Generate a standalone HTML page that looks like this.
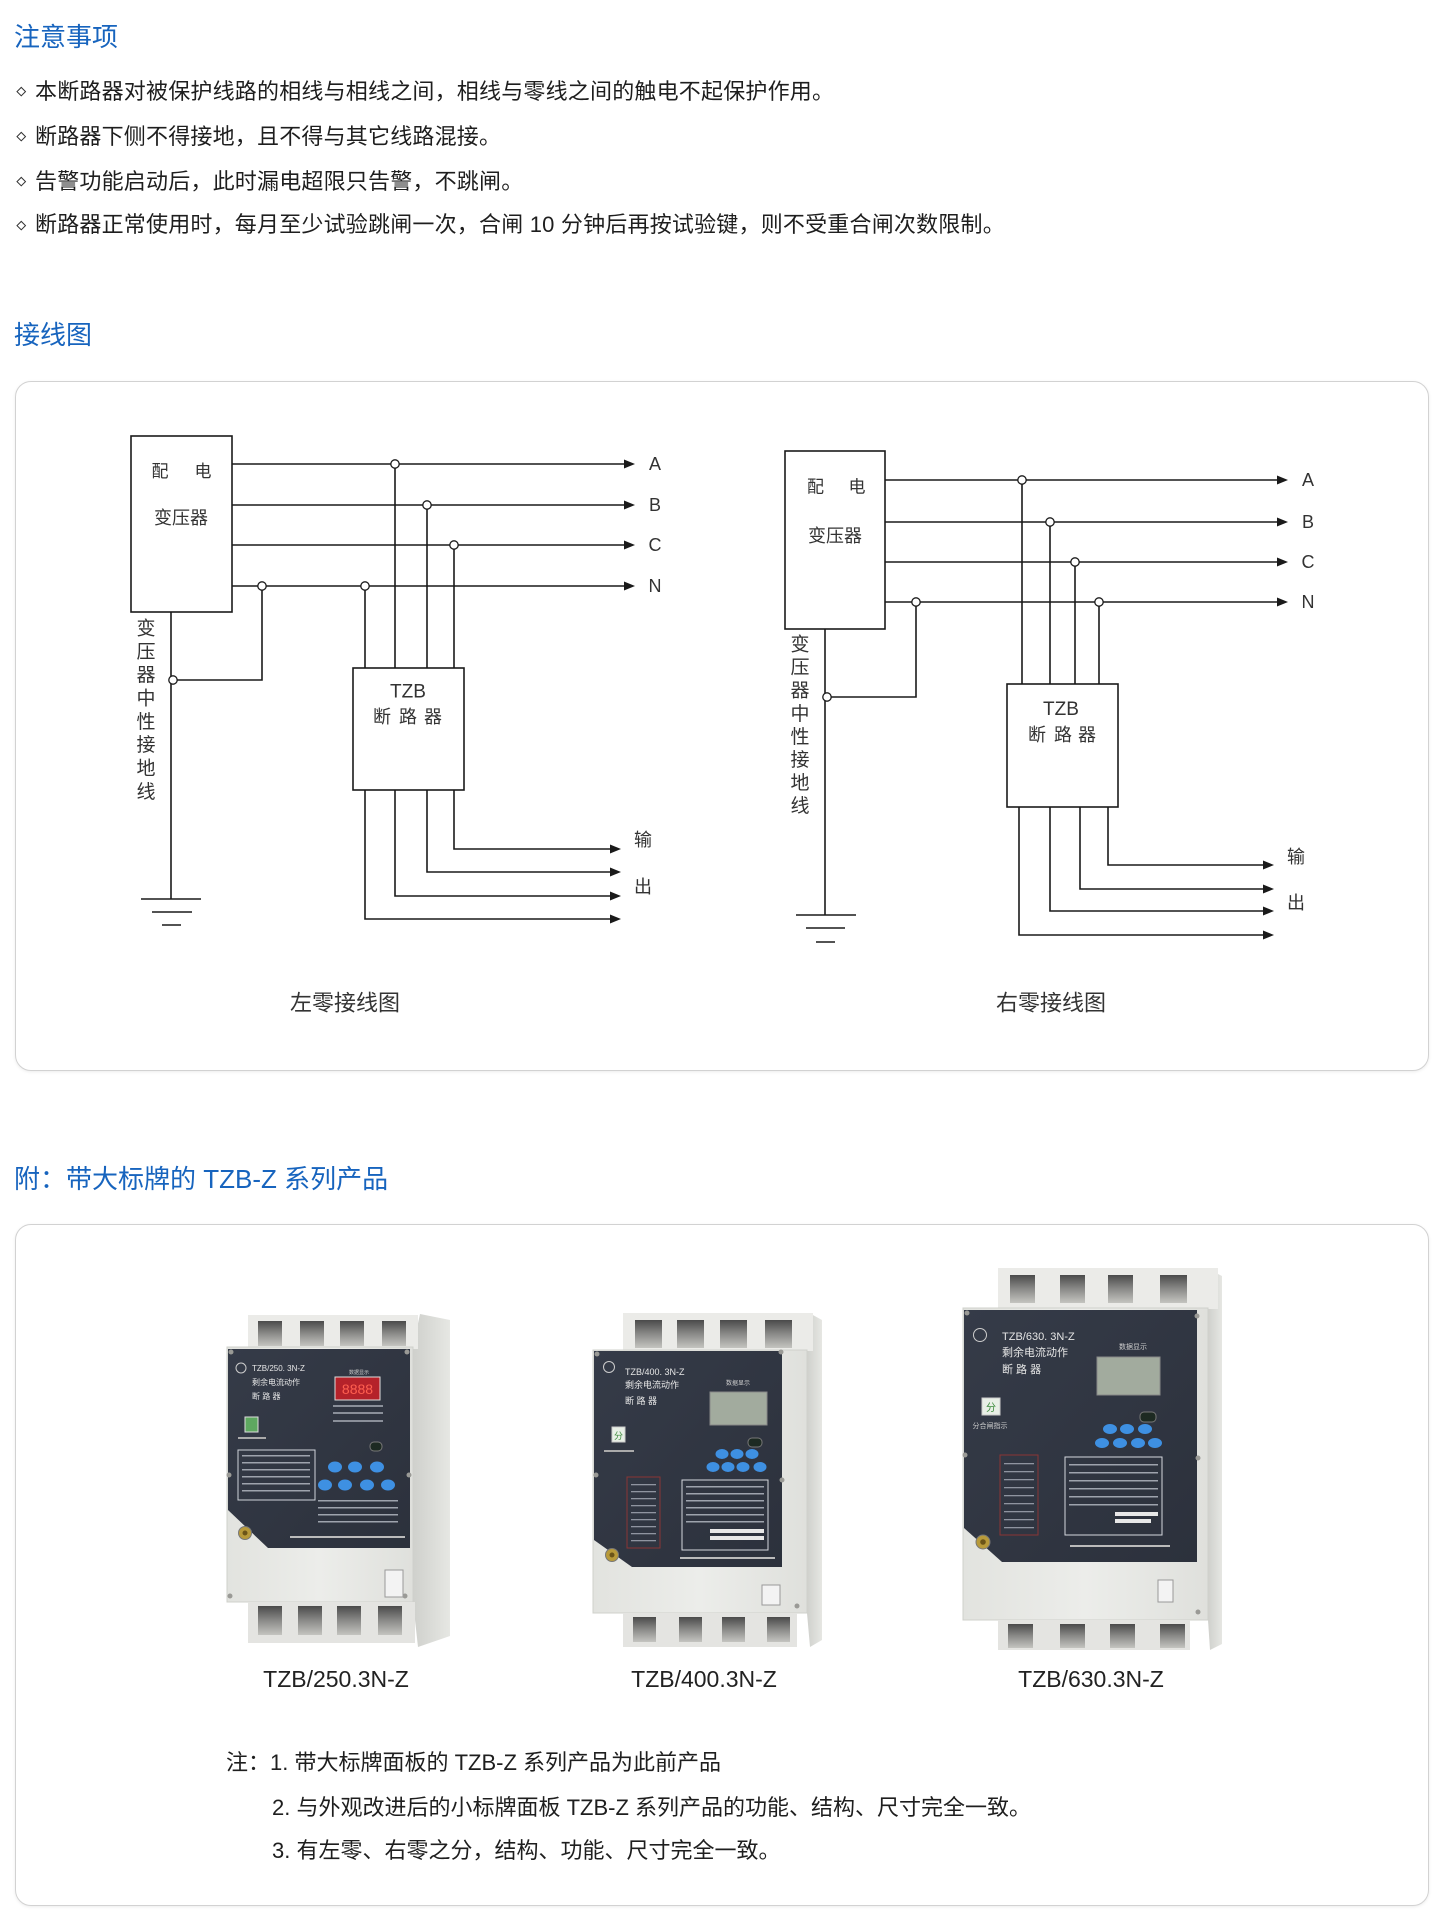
<!DOCTYPE html>
<html><head><meta charset="utf-8">
<style>
html,body{margin:0;padding:0;background:#fff}
body{width:1444px;height:1918px;position:relative;overflow:hidden;font-family:"Liberation Sans","Noto Sans CJK SC",sans-serif;color:#222}
.t{position:absolute;white-space:nowrap;line-height:30px}
.h{font-size:26px;color:#1764be;left:14px}
.b{font-size:22px;left:35px;color:#1e1e1e;letter-spacing:0.2px}
.dia{position:absolute;width:4.5px;height:4.5px;border:1.2px solid #333;transform:rotate(45deg);left:18px}
.card{position:absolute;left:15px;width:1414px;box-sizing:border-box;border:1.5px solid #d2d2d2;border-radius:16px;box-shadow:0 1px 3px rgba(0,0,0,.08);background:#fff}
.cap{position:absolute;width:240px;text-align:center;font-size:23px;line-height:30px;color:#222}
.n{position:absolute;font-size:22px;line-height:30px;white-space:nowrap;color:#1e1e1e}
svg{position:absolute;left:0;top:0}
</style></head><body>

<div class="t h" style="top:21.7px">注意事项</div>
<div class="dia" style="top:87.5px"></div>
<div class="t b" style="top:76.7px">本断路器对被保护线路的相线与相线之间，相线与零线之间的触电不起保护作用。</div>
<div class="dia" style="top:132.5px"></div>
<div class="t b" style="top:121.7px">断路器下侧不得接地，且不得与其它线路混接。</div>
<div class="dia" style="top:177.5px"></div>
<div class="t b" style="top:166.7px">告警功能启动后，此时漏电超限只告警，不跳闸。</div>
<div class="dia" style="top:221.5px"></div>
<div class="t b" style="top:210px">断路器正常使用时，每月至少试验跳闸一次，合闸 10 分钟后再按试验键，则不受重合闸次数限制。</div>

<div class="t h" style="top:320px">接线图</div>
<div class="card" style="top:381px;height:690px"></div>

<div class="t h" style="top:1164px">附：带大标牌的 TZB-Z 系列产品</div>
<div class="card" style="top:1224px;height:682px"></div>

<svg width="1444" height="1918" viewBox="0 0 1444 1918" font-family="Liberation Sans, Noto Sans CJK SC, sans-serif">
<defs>
<linearGradient id="side" x1="0" x2="1" y1="0" y2="0"><stop offset="0" stop-color="#cfd0cc"/><stop offset="1" stop-color="#e6e7e3"/></linearGradient>
<linearGradient id="front" x1="0" x2="1" y1="0" y2="0"><stop offset="0" stop-color="#e2e3df"/><stop offset=".5" stop-color="#ecedea"/><stop offset="1" stop-color="#dfe0dc"/></linearGradient>
<linearGradient id="slot" x1="0" x2="0" y1="0" y2="1"><stop offset="0" stop-color="#4a4a4a"/><stop offset=".5" stop-color="#8a8a88"/><stop offset="1" stop-color="#c4c4c0"/></linearGradient>
<linearGradient id="panel" x1="0" x2="1" y1="0" y2="1"><stop offset="0" stop-color="#353b48"/><stop offset="1" stop-color="#2c313c"/></linearGradient>
</defs>

<!-- ============ LEFT DIAGRAM ============ -->
<g stroke="#1a1a1a" stroke-width="1.6" fill="none">
<rect x="131" y="436" width="101" height="176"/>
<path d="M232 464H625M232 505H625M232 545H625M232 586H625"/>
<path d="M395 464V668M427 505V668M454 545V668M365 586V668M262 586V680H172M171 612V899"/>
<path d="M141 899H201M152 912H192M162 925H181"/>
<rect x="353" y="668" width="111" height="122"/>
<path d="M454 790V849H611M427 790V872H611M395 790V896H611M365 790V919H611"/>
</g>
<g fill="#1a1a1a">
<polygon points="624,459.5 635,464 624,468.5"/><polygon points="624,500.5 635,505 624,509.5"/>
<polygon points="624,540.5 635,545 624,549.5"/><polygon points="624,581.5 635,586 624,590.5"/>
<polygon points="610,844.5 621,849 610,853.5"/><polygon points="610,867.5 621,872 610,876.5"/>
<polygon points="610,891.5 621,896 610,900.5"/><polygon points="610,914.5 621,919 610,923.5"/>
</g>
<g fill="#fff" stroke="#1a1a1a" stroke-width="1.3">
<circle cx="395" cy="464" r="4.2"/><circle cx="427" cy="505" r="4.2"/><circle cx="454" cy="545" r="4.2"/>
<circle cx="262" cy="586" r="4.2"/><circle cx="365" cy="586" r="4.2"/><circle cx="173" cy="680" r="4.2"/>
</g>
<g fill="#333" text-anchor="middle" dominant-baseline="central">
<text x="160" y="471.5" font-size="17">配</text><text x="203" y="471.5" font-size="17">电</text>
<text x="181" y="518" font-size="18">变压器</text>
<g font-size="18"><text x="655" y="464">A</text><text x="655" y="505">B</text><text x="655" y="545">C</text><text x="655" y="586">N</text></g>
<text x="408" y="692" font-size="19">TZB</text>
<g font-size="18"><text x="382" y="717">断</text><text x="408" y="717">路</text><text x="433" y="717">器</text></g>
<g font-size="18"><text x="643" y="840">输</text><text x="643" y="887">出</text></g>
<g font-size="19"><text x="146" y="629">变</text><text x="146" y="652.3">压</text><text x="146" y="675.6">器</text><text x="146" y="699">中</text><text x="146" y="722.3">性</text><text x="146" y="745.6">接</text><text x="146" y="769">地</text><text x="146" y="792.3">线</text></g>
<text x="345" y="1003" font-size="22">左零接线图</text>
</g>

<!-- ============ RIGHT DIAGRAM ============ -->
<g stroke="#1a1a1a" stroke-width="1.6" fill="none">
<rect x="785" y="451" width="100" height="178"/>
<path d="M885 480H1278M885 522H1278M885 562H1278M885 602H1278"/>
<path d="M1022 480V684M1050 522V684M1075 562V684M1099 602V684M916 602V697H826M825 629V915"/>
<path d="M796 915H856M806 928H845M816 942H835"/>
<rect x="1007" y="684" width="111" height="123"/>
<path d="M1108 807V865H1264M1080 807V889H1264M1050 807V911H1264M1019 807V935H1264"/>
</g>
<g fill="#1a1a1a">
<polygon points="1277,475.5 1288,480 1277,484.5"/><polygon points="1277,517.5 1288,522 1277,526.5"/>
<polygon points="1277,557.5 1288,562 1277,566.5"/><polygon points="1277,597.5 1288,602 1277,606.5"/>
<polygon points="1263,860.5 1274,865 1263,869.5"/><polygon points="1263,884.5 1274,889 1263,893.5"/>
<polygon points="1263,906.5 1274,911 1263,915.5"/><polygon points="1263,930.5 1274,935 1263,939.5"/>
</g>
<g fill="#fff" stroke="#1a1a1a" stroke-width="1.3">
<circle cx="1022" cy="480" r="4.2"/><circle cx="1050" cy="522" r="4.2"/><circle cx="1075" cy="562" r="4.2"/>
<circle cx="1099" cy="602" r="4.2"/><circle cx="916" cy="602" r="4.2"/><circle cx="827" cy="697" r="4.2"/>
</g>
<g fill="#333" text-anchor="middle" dominant-baseline="central">
<text x="815.5" y="487" font-size="17">配</text><text x="857" y="487" font-size="17">电</text>
<text x="835" y="536" font-size="18">变压器</text>
<g font-size="18"><text x="1308" y="480">A</text><text x="1308" y="522">B</text><text x="1308" y="562">C</text><text x="1308" y="602">N</text></g>
<text x="1061" y="709.5" font-size="19">TZB</text>
<g font-size="18"><text x="1037" y="735">断</text><text x="1063" y="735">路</text><text x="1087" y="735">器</text></g>
<g font-size="18"><text x="1296" y="857">输</text><text x="1296" y="903">出</text></g>
<g font-size="19"><text x="800" y="645">变</text><text x="800" y="668.1">压</text><text x="800" y="691.2">器</text><text x="800" y="714.3">中</text><text x="800" y="737.4">性</text><text x="800" y="760.5">接</text><text x="800" y="783.6">地</text><text x="800" y="806.7">线</text></g>
<text x="1051" y="1003" font-size="22">右零接线图</text>
</g>

<!-- ============ PRODUCT 1 ============ -->
<g>
<polygon points="413,1347 420,1314 450,1320 450,1636 418,1647 413,1602" fill="url(#side)"/>
<rect x="248" y="1315" width="170" height="34" fill="#ebebe8"/>
<g fill="url(#slot)"><rect x="258" y="1321" width="24" height="25"/><rect x="300" y="1321" width="24" height="25"/><rect x="340" y="1321" width="24" height="25"/><rect x="382" y="1321" width="24" height="25"/></g>
<rect x="227" y="1347" width="186" height="255" fill="url(#front)" stroke="#cfd0cb"/>
<path d="M228 1349H410V1548H268L228 1510Z" fill="url(#panel)"/>
<g fill="#9a9a96"><circle cx="231" cy="1352" r="2.5"/><circle cx="407" cy="1352" r="2.5"/><circle cx="229" cy="1475" r="2.5"/><circle cx="409" cy="1475" r="2.5"/><circle cx="230" cy="1596" r="2.5"/><circle cx="405" cy="1596" r="2.5"/></g>
<circle cx="241" cy="1368" r="5" fill="none" stroke="#ccc" stroke-width="1"/>
<g fill="#e6e6e6" font-size="8"><text x="252" y="1371">TZB/250. 3N-Z</text><text x="252" y="1385">剩余电流动作</text><text x="252" y="1399">断  路  器</text></g>
<text x="349" y="1374" font-size="5" fill="#ccc">数据显示</text>
<rect x="335" y="1377" width="45" height="23" fill="#b5222a" stroke="#ddd" stroke-width="1"/>
<text x="357.5" y="1394" font-size="14" fill="#ff6050" text-anchor="middle">8888</text>
<g fill="#8a8f99"><rect x="333" y="1405" width="50" height="2"/><rect x="333" y="1412" width="50" height="2"/><rect x="333" y="1420" width="50" height="2"/></g>
<rect x="245" y="1417" width="13" height="15" fill="#5ea860" stroke="#ddd"/>
<rect x="238" y="1437" width="28" height="2" fill="#aaa"/>
<rect x="370" y="1442" width="12" height="9" rx="4" fill="#1d2a22" stroke="#777"/>
<rect x="238" y="1450" width="77" height="50" fill="none" stroke="#cfd3da" stroke-width="1"/>
<g fill="#9ea3ad"><rect x="242" y="1455" width="68" height="1.5"/><rect x="242" y="1462" width="68" height="1.5"/><rect x="242" y="1469" width="68" height="1.5"/><rect x="242" y="1476" width="68" height="1.5"/><rect x="242" y="1483" width="68" height="1.5"/><rect x="242" y="1490" width="68" height="1.5"/></g>
<g fill="#3e90e2"><ellipse cx="335" cy="1467" rx="7" ry="5.5"/><ellipse cx="355" cy="1467" rx="7" ry="5.5"/><ellipse cx="377" cy="1467" rx="7" ry="5.5"/><ellipse cx="325" cy="1485" rx="7" ry="5.5"/><ellipse cx="345" cy="1485" rx="7" ry="5.5"/><ellipse cx="367" cy="1485" rx="7" ry="5.5"/><ellipse cx="388" cy="1485" rx="7" ry="5.5"/></g>
<g fill="#9ea3ad"><rect x="318" y="1500" width="80" height="1.5"/><rect x="318" y="1507" width="80" height="1.5"/><rect x="318" y="1514" width="80" height="1.5"/><rect x="318" y="1521" width="80" height="1.5"/></g>
<rect x="290" y="1536" width="115" height="2" fill="#bbb"/>
<circle cx="245" cy="1533" r="6.5" fill="#b89a3a" stroke="#777"/>
<circle cx="245" cy="1533" r="2.5" fill="#6b5418"/>
<rect x="385" y="1570" width="18" height="27" fill="#f3f3f3" stroke="#999"/>
<rect x="248" y="1602" width="167" height="41" fill="#e4e4e1"/>
<g fill="url(#slot)"><rect x="258" y="1606" width="24" height="29"/><rect x="298" y="1606" width="24" height="29"/><rect x="337" y="1606" width="24" height="29"/><rect x="378" y="1606" width="24" height="29"/></g>
</g>

<!-- ============ PRODUCT 2 ============ -->
<g>
<polygon points="807,1350 811,1314 822,1320 822,1640 810,1647 807,1613" fill="url(#side)"/>
<rect x="623" y="1313" width="190" height="38" fill="#ebebe8"/>
<g fill="url(#slot)"><rect x="635" y="1320" width="27" height="28"/><rect x="677" y="1320" width="27" height="28"/><rect x="720" y="1320" width="27" height="28"/><rect x="765" y="1320" width="27" height="28"/></g>
<rect x="593" y="1350" width="214" height="263" fill="url(#front)" stroke="#cfd0cb"/>
<path d="M594 1351H782V1567H632L594 1540Z" fill="url(#panel)"/>
<g fill="#9a9a96"><circle cx="597" cy="1354" r="2.5"/><circle cx="781" cy="1352" r="2.5"/><circle cx="596" cy="1475" r="2.5"/><circle cx="782" cy="1480" r="2.5"/><circle cx="797" cy="1606" r="2.5"/></g>
<circle cx="609" cy="1367" r="5.5" fill="none" stroke="#ccc" stroke-width="1"/>
<g fill="#e6e6e6" font-size="9"><text x="625" y="1375">TZB/400. 3N-Z</text><text x="625" y="1388">剩余电流动作</text><text x="625" y="1404">断   路   器</text></g>
<text x="738" y="1385" font-size="6" fill="#ccc" text-anchor="middle">数据显示</text>
<rect x="710" y="1392" width="57" height="33" fill="#a2ab9e" stroke="#888"/>
<rect x="612" y="1427" width="13" height="15" fill="#e8efe6" stroke="#ccc"/>
<text x="618.5" y="1439" font-size="9" fill="#3a8a3a" text-anchor="middle">分</text>
<rect x="604" y="1450" width="30" height="2" fill="#aaa"/>
<rect x="748" y="1438" width="14" height="9" rx="4" fill="#1d2a22" stroke="#777"/>
<g fill="#3e90e2"><ellipse cx="722" cy="1454" rx="6.5" ry="5"/><ellipse cx="737" cy="1454" rx="6.5" ry="5"/><ellipse cx="752" cy="1454" rx="6.5" ry="5"/><ellipse cx="713" cy="1467" rx="6.5" ry="5"/><ellipse cx="728" cy="1467" rx="6.5" ry="5"/><ellipse cx="743" cy="1467" rx="6.5" ry="5"/><ellipse cx="760" cy="1467" rx="6.5" ry="5"/></g>
<rect x="627" y="1477" width="33" height="71" fill="none" stroke="#8a3535" stroke-width="1"/>
<g fill="#8f94a0"><rect x="631" y="1484" width="25" height="1.3"/><rect x="631" y="1491" width="25" height="1.3"/><rect x="631" y="1498" width="25" height="1.3"/><rect x="631" y="1505" width="25" height="1.3"/><rect x="631" y="1512" width="25" height="1.3"/><rect x="631" y="1519" width="25" height="1.3"/><rect x="631" y="1526" width="25" height="1.3"/><rect x="631" y="1533" width="25" height="1.3"/><rect x="631" y="1540" width="25" height="1.3"/></g>
<rect x="682" y="1480" width="86" height="70" fill="none" stroke="#d5d8de" stroke-width="1"/>
<g fill="#9ea3ad"><rect x="686" y="1486" width="78" height="1.5"/><rect x="686" y="1493" width="78" height="1.5"/><rect x="686" y="1500" width="78" height="1.5"/><rect x="686" y="1507" width="78" height="1.5"/><rect x="686" y="1514" width="78" height="1.5"/><rect x="686" y="1521" width="78" height="1.5"/></g>
<g fill="#e8e8e8"><rect x="710" y="1529" width="54" height="4"/><rect x="710" y="1536" width="54" height="4"/></g>
<rect x="680" y="1557" width="95" height="2" fill="#bbb"/>
<circle cx="612" cy="1555" r="6.5" fill="#b89a3a" stroke="#777"/>
<circle cx="612" cy="1555" r="2.5" fill="#6b5418"/>
<rect x="762" y="1585" width="18" height="20" fill="#f3f3f3" stroke="#999"/>
<rect x="623" y="1613" width="174" height="34" fill="#e4e4e1"/>
<g fill="url(#slot)"><rect x="633" y="1617" width="23" height="25"/><rect x="679" y="1617" width="23" height="25"/><rect x="722" y="1617" width="23" height="25"/><rect x="767" y="1617" width="23" height="25"/></g>
</g>

<!-- ============ PRODUCT 3 ============ -->
<g>
<polygon points="1208,1308 1210,1270 1222,1276 1222,1644 1210,1650 1208,1620" fill="url(#side)"/>
<rect x="998" y="1268" width="220" height="41" fill="#ebebe8"/>
<g fill="url(#slot)"><rect x="1010" y="1275" width="25" height="28"/><rect x="1060" y="1275" width="25" height="28"/><rect x="1108" y="1275" width="25" height="28"/><rect x="1160" y="1275" width="27" height="28"/></g>
<rect x="963" y="1308" width="245" height="312" fill="url(#front)" stroke="#cfd0cb"/>
<path d="M964 1310H1197V1562H1002L964 1528Z" fill="url(#panel)"/>
<g fill="#9a9a96"><circle cx="967" cy="1313" r="2.5"/><circle cx="1197" cy="1316" r="2.5"/><circle cx="965" cy="1455" r="2.5"/><circle cx="1198" cy="1458" r="2.5"/><circle cx="1198" cy="1612" r="2.5"/></g>
<circle cx="980" cy="1335" r="6.5" fill="none" stroke="#ccc" stroke-width="1"/>
<g fill="#e6e6e6" font-size="11"><text x="1002" y="1340">TZB/630. 3N-Z</text><text x="1002" y="1356">剩余电流动作</text><text x="1002" y="1373">断    路    器</text></g>
<text x="1133" y="1349" font-size="7" fill="#ccc" text-anchor="middle">数据显示</text>
<rect x="1097" y="1357" width="63" height="38" fill="#a2ab9e" stroke="#888"/>
<rect x="982" y="1398" width="18" height="17" fill="#e8efe6" stroke="#ccc"/>
<text x="991" y="1411" font-size="10" fill="#3a8a3a" text-anchor="middle">分</text>
<text x="990" y="1428" font-size="7" fill="#ccc" text-anchor="middle">分合闸指示</text>
<rect x="1140" y="1412" width="16" height="10" rx="4" fill="#1d2a22" stroke="#777"/>
<g fill="#3e90e2"><ellipse cx="1110" cy="1429" rx="7" ry="5"/><ellipse cx="1127" cy="1429" rx="7" ry="5"/><ellipse cx="1145" cy="1429" rx="7" ry="5"/><ellipse cx="1102" cy="1443" rx="7" ry="5"/><ellipse cx="1120" cy="1443" rx="7" ry="5"/><ellipse cx="1138" cy="1443" rx="7" ry="5"/><ellipse cx="1155" cy="1443" rx="7" ry="5"/></g>
<rect x="1000" y="1455" width="38" height="80" fill="none" stroke="#8a3535" stroke-width="1"/>
<g fill="#8f94a0"><rect x="1004" y="1463" width="30" height="1.3"/><rect x="1004" y="1471" width="30" height="1.3"/><rect x="1004" y="1479" width="30" height="1.3"/><rect x="1004" y="1487" width="30" height="1.3"/><rect x="1004" y="1495" width="30" height="1.3"/><rect x="1004" y="1503" width="30" height="1.3"/><rect x="1004" y="1511" width="30" height="1.3"/><rect x="1004" y="1519" width="30" height="1.3"/><rect x="1004" y="1527" width="30" height="1.3"/></g>
<rect x="1065" y="1457" width="97" height="78" fill="none" stroke="#d5d8de" stroke-width="1"/>
<g fill="#9ea3ad"><rect x="1069" y="1464" width="89" height="1.5"/><rect x="1069" y="1472" width="89" height="1.5"/><rect x="1069" y="1480" width="89" height="1.5"/><rect x="1069" y="1488" width="89" height="1.5"/><rect x="1069" y="1496" width="89" height="1.5"/><rect x="1069" y="1504" width="89" height="1.5"/></g>
<g fill="#e8e8e8"><rect x="1115" y="1512" width="43" height="4"/><rect x="1115" y="1519" width="36" height="4"/></g>
<rect x="1070" y="1545" width="100" height="2" fill="#bbb"/>
<circle cx="983" cy="1542" r="7" fill="#b89a3a" stroke="#777"/>
<circle cx="983" cy="1542" r="2.8" fill="#6b5418"/>
<rect x="1158" y="1580" width="15" height="22" fill="#f3f3f3" stroke="#999"/>
<rect x="998" y="1620" width="192" height="30" fill="#e4e4e1"/>
<g fill="url(#slot)"><rect x="1008" y="1624" width="25" height="24"/><rect x="1060" y="1624" width="25" height="24"/><rect x="1110" y="1624" width="25" height="24"/><rect x="1160" y="1624" width="25" height="24"/></g>
</g>
</svg>

<div class="cap" style="left:216px;top:1664px">TZB/250.3N-Z</div>
<div class="cap" style="left:584px;top:1664px">TZB/400.3N-Z</div>
<div class="cap" style="left:971px;top:1664px">TZB/630.3N-Z</div>

<div class="n" style="left:226px;top:1748px">注：1. 带大标牌面板的 TZB-Z 系列产品为此前产品</div>
<div class="n" style="left:272px;top:1793px">2. 与外观改进后的小标牌面板 TZB-Z 系列产品的功能、结构、尺寸完全一致。</div>
<div class="n" style="left:272px;top:1836px">3. 有左零、右零之分，结构、功能、尺寸完全一致。</div>

</body></html>
